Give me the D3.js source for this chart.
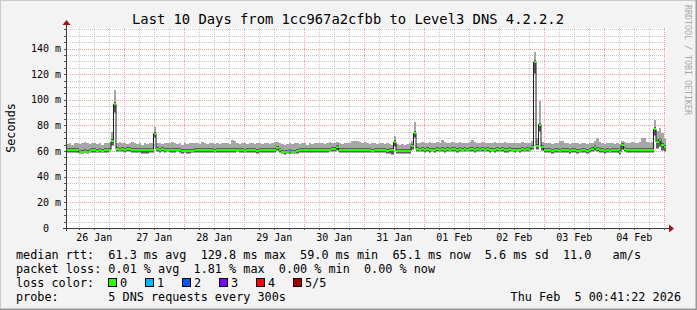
<!DOCTYPE html>
<html>
<head>
<meta charset="utf-8">
<script src="https://cdn.jsdelivr.net/npm/d3@7"></script>
<style>
  body { margin: 0; background: #f3f3f3; }
  text { font-family: "DejaVu Sans Mono", monospace; white-space: pre; }
</style>
</head>
<body>
<div id="chart"></div>
<script>
var svgWidth = 697;
var svgHeight = 310;

// plot area (rrdtool canvas)
var plot = { left: 66, right: 666, top: 28, bottom: 228 };

// time range: last 10 days, hourly steps
var timeEnd = Date.UTC(2026, 1, 5, 0, 41, 22);
var timeStart = timeEnd - 10 * 24 * 3600 * 1000;
var stepMs = 3600 * 1000;

// median rtt per step (ms)
var median = [
  60.8,60.6,60.9,60.5,60.7,59.0,59.1,60.4,59.0,60.2,
  60.5,60.7,60.4,60.6,60.3,60.8,60.5,61.0,67.5,96.5,
  61.5,61.2,61.5,61.0,61.3,61.6,60.8,61.2,60.7,60.9,
  60.6,60.8,60.5,60.7,61.0,73.7,61.5,61.0,61.3,60.9,
  61.2,60.8,61.0,60.7,61.1,60.9,60.0,60.2,59.8,60.1,
  60.3,60.7,60.9,60.6,60.8,60.5,60.7,61.0,60.6,60.4,
  60.6,60.9,60.7,61.0,60.5,60.7,60.9,60.6,61.2,60.8,
  60.6,60.4,60.8,61.0,60.5,60.7,60.3,60.6,60.8,60.5,
  60.7,60.9,60.6,61.0,62.5,60.8,59.3,59.0,59.5,59.8,
  59.2,59.6,60.3,60.5,60.7,60.6,60.9,60.5,60.8,60.6,
  60.7,60.5,61.0,60.8,60.9,61.2,61.5,61.8,63.0,61.0,
  60.8,60.6,60.9,60.7,60.5,60.8,61.0,60.7,60.6,60.9,
  60.7,60.5,60.4,60.8,60.6,60.9,60.5,60.7,60.4,60.6,
  60.5,67.0,60.0,59.8,60.0,59.7,59.9,60.0,64.0,74.0,
  61.5,61.2,61.6,61.0,61.3,60.9,61.2,61.0,61.4,61.1,
  61.3,61.0,61.5,61.2,61.6,61.3,61.0,61.4,61.2,61.5,
  61.2,61.6,61.3,61.0,61.4,61.2,61.5,61.1,61.3,61.0,
  61.2,61.0,61.3,61.1,61.4,60.8,61.0,61.3,61.2,61.0,
  61.2,61.0,61.3,61.1,61.4,61.2,63.0,129.5,64.0,80.7,
  63.0,60.8,60.5,60.6,60.3,60.5,60.7,60.4,60.6,60.5,
  60.7,60.3,60.5,60.6,60.2,60.4,60.6,60.5,60.3,60.6,
  61.5,62.8,62.0,60.8,60.5,60.3,60.6,60.4,60.5,60.7,
  60.5,59.0,64.5,61.5,61.0,61.2,60.9,61.1,60.8,61.0,
  61.2,60.9,61.0,60.8,61.1,77.0,67.0,69.0,64.6,63.5
];

// smoke: slowest ping per step (ms)
var smokeMax = [
  65.5,66,65,66.5,66,65.5,66,67,66,65.5,
  66,66.5,65.5,66,65,66,66.5,66,75,108,
  66,67,66.5,66,65.5,66,67,66,65.5,66,
  65,66,65.5,66,66.5,79,66,66.5,65.5,66,
  66.5,66,67,66,65.5,66,65,66,65.5,66,
  66,66.5,66,65.5,67,66,65.5,66,66,65.5,
  66,65.5,66,66.5,66,65.5,68.5,68,66,65.5,
  66,66.5,65.5,66,66,65.5,66,66.5,65.5,66,
  66,65.5,66.5,67,67,66,65.5,65,65.5,66,
  65.5,66,66,65.5,66.5,66,65,66,65.5,66,
  66,66.5,66,65.5,66,67,66.5,66,67,66,
  65.5,66,66.5,66,67.5,67.7,67.5,67,66.5,67,
  66,65.5,66,66.5,65.5,66,66,65.5,66,65.5,
  65,72,65.5,65,65.5,65,65.5,66,68,83,
  66.5,66,67,66.5,66,67,66.5,66,67,66.5,
  68.5,67,66.5,66,67,66.5,66,67,66.5,66,
  66.5,67,68.5,67,66.5,66,67,66.5,66,66.5,
  66,67,66.5,66,66.5,67,66,66.5,66,66.5,
  66,66.5,67,66,66.5,66,67.5,137,70,99,
  67,66,66.5,66,65.5,66,66.5,68,68,66,
  66,65.5,66,66.5,66,65.5,66,66,65.5,66,
  66.5,67.5,70,67,66,65.5,66,66.5,66,65.5,
  66,65.5,68,67,66.5,66,67,66.5,66,67,
  70,70,67,66.5,67,84,76,78,74,70
];

// smoke: fastest ping per step (ms)
var smokeMin = [
  58.5,58.5,58.8,58.3,58.5,57.8,57.6,58.3,57.8,58.2,
  58.5,58.6,58.3,58.5,58.2,58.6,58.4,59,64,90,
  59,59.2,59.5,58.8,59,59.3,58.5,58.8,58.3,58.5,
  57.4,57.6,58,58.3,58.6,70,59.2,58.8,59,58.7,
  59,58.6,58.8,58.5,58.9,58.6,58,58.2,57.8,58,
  58.2,58.5,58.7,58.4,58.6,58.3,58.5,58.8,58.4,58.2,
  58.4,58.7,58.5,58.8,58.3,58.5,58.7,58.4,59,58.6,
  58.4,58.2,58.6,58.8,58.3,58.5,58.1,58.4,58.6,58.3,
  58.5,58.7,58.4,58.8,60,58.6,57.4,57.2,57.8,58,
  57.4,57.8,58.1,58.3,58.5,58.4,58.7,58.3,58.6,58.4,
  58.5,58.3,58.8,58.6,58.7,59,59.2,59.5,60,58.8,
  58.6,58.4,58.7,58.5,58.3,58.6,58.8,58.5,58.4,58.7,
  58.5,58.3,58.2,58.6,58.4,58.7,58.3,58.5,57.6,57.4,
  57.2,63,57.8,57.6,57.8,57.5,57.7,57.8,61,70,
  59.3,59,59.4,58.8,59.1,58.7,59,58.8,59.2,58.9,
  59.1,58.8,59.3,59,59.4,59.1,58.8,59.2,59,59.3,
  59,59.4,59.1,58.8,59.2,59,59.3,58.9,59.1,58.8,
  59,58.8,59.1,58.9,59.2,58.6,58.8,59.1,59,58.8,
  59,58.8,59.1,58.9,59.2,59,60.5,120,61,75,
  60,58.6,58.3,58.4,58.1,58.3,58.5,58.2,58.4,58.3,
  58.5,58.1,58.3,58.4,58,58.2,58.4,58.3,58.1,58.4,
  59,60,59.5,58.6,58.3,58.1,58.4,58.2,58.3,58.5,
  58.3,57,61,59,58.6,58.8,58.5,58.7,58.4,58.6,
  58.8,58.5,58.6,58.4,58.7,72,62,63,60,59
];

// steps with packet loss (lost pings out of 5)
var lossStep = [89];
var lossCount = [1];

var lossLabels = ["0", "1", "2", "3", "4", "5/5"];
var lossColors = ["#26ff00", "#00b8ff", "#0059ff", "#7e00ff", "#ff0000", "#a10000"];

var yTicks = [0, 20, 40, 60, 80, 100, 120, 140];
var yTickLabels = ["0  ", "20 m", "40 m", "60 m", "80 m", "100 m", "120 m", "140 m"];
var dayLabels = ["26 Jan", "27 Jan", "28 Jan", "29 Jan", "30 Jan", "31 Jan", "01 Feb", "02 Feb", "03 Feb", "04 Feb"];

var legendLines = [
  "median rtt:  61.3 ms avg  129.8 ms max  59.0 ms min  65.1 ms now  5.6 ms sd  11.0   am/s",
  "packet loss: 0.01 % avg  1.81 % max  0.00 % min  0.00 % now",
  "loss color:",
  "probe:       5 DNS requests every 300s"
];

var svg = d3.select("#chart").append("svg")
  .attr("width", svgWidth)
  .attr("height", svgHeight);

// frame
svg.append("rect").attr("width", svgWidth).attr("height", svgHeight).attr("fill", "#f3f3f3");
svg.append("path").attr("d", `M0,${svgHeight} V0 H${svgWidth}`)
  .attr("fill", "none").attr("stroke", "#cbcbcb").attr("stroke-width", 2);
svg.append("path").attr("d", `M${svgWidth},0 V${svgHeight} H0`)
  .attr("fill", "none").attr("stroke", "#9a9a9a").attr("stroke-width", 3);

var x = d3.scaleTime()
  .domain([new Date(timeStart), new Date(timeEnd)])
  .range([plot.left, plot.right]);

var y = d3.scaleLinear()
  .domain([0, 156])
  .range([plot.bottom, plot.top]);

// canvas
svg.append("rect")
  .attr("x", plot.left).attr("y", plot.top)
  .attr("width", plot.right - plot.left).attr("height", plot.bottom - plot.top)
  .attr("fill", "#ffffff");

var grid = svg.append("g").attr("shape-rendering", "crispEdges").attr("stroke-dasharray", "1,1");

// minor grid
var minorTimes = d3.utcHour.every(6).range(new Date(timeStart), new Date(timeEnd));
grid.selectAll(".vminor").data(minorTimes).enter().append("line")
  .attr("x1", d => Math.round(x(d)) + 0.5).attr("x2", d => Math.round(x(d)) + 0.5)
  .attr("y1", plot.top).attr("y2", plot.bottom)
  .attr("stroke", "#c6c6c6");

grid.selectAll(".hminor").data(d3.range(5, 156, 5)).enter().append("line")
  .attr("x1", plot.left).attr("x2", plot.right)
  .attr("y1", d => Math.round(y(d)) + 0.5).attr("y2", d => Math.round(y(d)) + 0.5)
  .attr("stroke", "#c6c6c6");

// major grid
var dayTimes = d3.utcDay.range(new Date(timeStart), new Date(timeEnd));
grid.selectAll(".vmajor").data(dayTimes).enter().append("line")
  .attr("x1", d => Math.round(x(d)) + 0.5).attr("x2", d => Math.round(x(d)) + 0.5)
  .attr("y1", plot.top).attr("y2", plot.bottom)
  .attr("stroke", "#f29c9c");

grid.selectAll(".hmajor").data(yTicks.slice(1)).enter().append("line")
  .attr("x1", plot.left).attr("x2", plot.right)
  .attr("y1", d => Math.round(y(d)) + 0.5).attr("y2", d => Math.round(y(d)) + 0.5)
  .attr("stroke", "#f29c9c");

// step data
var steps = median.map(function(m, i) {
  var li = lossStep.indexOf(i);
  return {
    t0: new Date(timeStart + i * stepMs),
    t1: new Date(timeStart + (i + 1) * stepMs),
    med: m,
    lo: smokeMin[i],
    hi: smokeMax[i],
    loss: li >= 0 ? lossCount[li] : 0
  };
});

var graph = svg.append("g").attr("shape-rendering", "crispEdges");

// light smoke (all pings)
graph.selectAll(".smoke").data(steps).enter().append("rect")
  .attr("x", d => x(d.t0))
  .attr("width", d => x(d.t1) - x(d.t0))
  .attr("y", d => y(d.hi))
  .attr("height", d => y(d.lo) - y(d.hi))
  .attr("fill", "#a6a6a6");

// dark smoke (pings near the median)
graph.selectAll(".smokeDark").data(steps).enter().append("rect")
  .attr("x", d => x(d.t0))
  .attr("width", d => x(d.t1) - x(d.t0))
  .attr("y", d => y(d.med) - 2)
  .attr("height", d => Math.max(0, y(d.lo) - 1 - (y(d.med) - 2)))
  .attr("fill", "#5e5e5e");

// median step line
var medLine = d3.line()
  .x(d => x(d[0]))
  .y(d => y(d[1]))
  .curve(d3.curveStepAfter);

var linePts = steps.map(d => [d.t0, d.med]);
linePts.push([steps[steps.length - 1].t1, steps[steps.length - 1].med]);

svg.append("path")
  .attr("d", medLine(linePts))
  .attr("fill", "none")
  .attr("stroke", "#202020")
  .attr("stroke-width", 1);

// median coloured by loss (on top of the black line)
var lossGroup = svg.append("g").attr("shape-rendering", "crispEdges");
lossGroup.selectAll(".medLoss").data(steps).enter().append("line")
  .attr("x1", d => x(d.t0)).attr("x2", d => x(d.t1))
  .attr("y1", d => y(d.med)).attr("y2", d => y(d.med))
  .attr("stroke", d => lossColors[d.loss])
  .attr("stroke-width", 2);

// axes
var axis = svg.append("g").attr("shape-rendering", "crispEdges");
axis.append("line")
  .attr("x1", plot.left - 3).attr("x2", plot.right + 3)
  .attr("y1", plot.bottom + 0.5).attr("y2", plot.bottom + 0.5)
  .attr("stroke", "#3a3a3a");
axis.append("line")
  .attr("x1", plot.left + 0.5).attr("x2", plot.left + 0.5)
  .attr("y1", plot.bottom + 3).attr("y2", plot.top - 3)
  .attr("stroke", "#3a3a3a");

// ticks
axis.selectAll(".xtick").data(minorTimes).enter().append("line")
  .attr("x1", d => Math.round(x(d)) + 0.5).attr("x2", d => Math.round(x(d)) + 0.5)
  .attr("y1", plot.bottom).attr("y2", plot.bottom + 2)
  .attr("stroke", "#555");
axis.selectAll(".ytick").data(d3.range(5, 156, 5)).enter().append("line")
  .attr("x1", plot.left - 2).attr("x2", plot.left)
  .attr("y1", d => Math.round(y(d)) + 0.5).attr("y2", d => Math.round(y(d)) + 0.5)
  .attr("stroke", "#555");

// arrows
svg.append("path")
  .attr("d", `M${plot.right + 3},${plot.bottom - 3.5} L${plot.right + 8},${plot.bottom + 0.5} L${plot.right + 3},${plot.bottom + 4.5} Z`)
  .attr("fill", "#a51515");
svg.append("path")
  .attr("d", `M${plot.left - 3.5},${plot.top - 3} L${plot.left + 0.5},${plot.top - 8} L${plot.left + 4.5},${plot.top - 3} Z`)
  .attr("fill", "#a51515");

// y labels
svg.selectAll(".ylabel").data(yTicks).enter().append("text")
  .attr("x", 61)
  .attr("y", d => y(d) + 3.5)
  .attr("text-anchor", "end")
  .attr("font-size", "10px")
  .attr("fill", "#000")
  .text((d, i) => yTickLabels[i]);

// x labels at midday
svg.selectAll(".xlabel").data(dayLabels).enter().append("text")
  .attr("x", (d, i) => x(d3.utcHour.offset(d3.utcDay.floor(new Date(timeStart)), 24 * i + 12)))
  .attr("y", 241)
  .attr("text-anchor", "middle")
  .attr("font-size", "10px")
  .attr("fill", "#000")
  .text(d => d);

// title
svg.append("text")
  .attr("x", 348).attr("y", 23.5)
  .attr("text-anchor", "middle")
  .attr("font-size", "13.8px")
  .attr("fill", "#000")
  .text("Last 10 Days from 1cc967a2cfbb to Level3 DNS 4.2.2.2");

// vertical label
svg.append("text")
  .attr("transform", "translate(15, 128) rotate(-90)")
  .attr("text-anchor", "middle")
  .attr("font-size", "11.8px")
  .attr("fill", "#000")
  .text("Seconds");

// watermark
svg.append("text")
  .attr("transform", "translate(685, 5) rotate(90)")
  .attr("font-size", "8.3px")
  .attr("fill", "#a8a8a8")
  .text("RRDTOOL / TOBI OETIKER");

// legend
svg.selectAll(".legend").data(legendLines).enter().append("text")
  .attr("x", 16)
  .attr("y", (d, i) => 258.5 + i * 14)
  .attr("font-size", "11.8px")
  .attr("fill", "#000")
  .text(d => d);

var lossLegend = svg.selectAll(".lossKey").data(lossLabels).enter().append("g")
  .attr("transform", (d, i) => `translate(${108.5 + i * 37}, 0)`);
lossLegend.append("rect")
  .attr("x", 0).attr("y", 278.5)
  .attr("width", 8).attr("height", 8)
  .attr("fill", (d, i) => lossColors[i])
  .attr("stroke", "#000")
  .attr("shape-rendering", "crispEdges");
lossLegend.append("text")
  .attr("x", 11.5).attr("y", 286.5)
  .attr("font-size", "11.8px")
  .attr("fill", "#000")
  .text(d => d);

svg.append("text")
  .attr("x", 681).attr("y", 300.5)
  .attr("text-anchor", "end")
  .attr("font-size", "11.8px")
  .attr("fill", "#000")
  .text("Thu Feb  5 00:41:22 2026");
</script>
</body>
</html>
